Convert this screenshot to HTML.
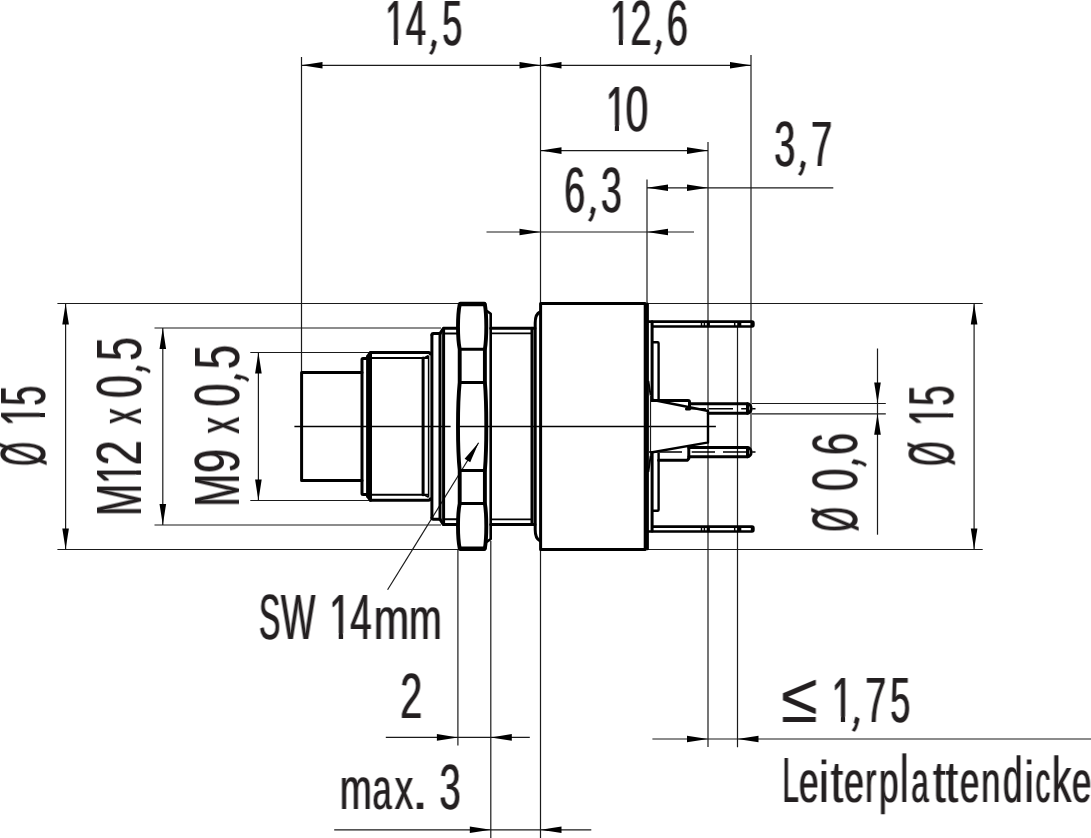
<!DOCTYPE html>
<html lang="de">
<head>
<meta charset="utf-8">
<title>Maßzeichnung</title>
<style>
html,body{margin:0;padding:0;background:#fff;}
body{width:1091px;height:838px;overflow:hidden;}
svg{display:block;}
text{font-family:"Liberation Sans",sans-serif;text-rendering:geometricPrecision;}
.t{fill:none;stroke:#1a1a1a;stroke-width:1.2;}
.k{fill:none;stroke:#000;stroke-width:3;stroke-linejoin:round;stroke-linecap:round;}
.m{fill:none;stroke:#000;stroke-width:1.9;stroke-linejoin:round;stroke-linecap:butt;}
.m2{fill:none;stroke:#000;stroke-width:2.4;stroke-linejoin:round;stroke-linecap:butt;}
.h2{fill:none;stroke:#000;stroke-width:4.4;stroke-linejoin:round;stroke-linecap:round;}
.p{fill:none;stroke:#000;stroke-width:2.6;stroke-linejoin:round;stroke-linecap:butt;}
.c{fill:none;stroke:#000;stroke-width:1.6;}
.n{fill:none;stroke:#000;stroke-width:1.5;stroke-linecap:butt;}
.h{fill:none;stroke:#000;stroke-width:3.9;stroke-linejoin:round;stroke-linecap:round;}
.a{fill:#000;stroke:none;}
</style>
</head>
<body>
<svg width="1091" height="838" viewBox="0 0 1091 838">
<rect width="1091" height="838" fill="#fff"/>
<defs>
<filter id="bh" x="-2%" y="-2%" width="104%" height="104%" color-interpolation-filters="sRGB"><feMorphology operator="dilate" radius="1 0" result="d"/><feComposite in="SourceGraphic" in2="d" operator="arithmetic" k1="0" k2="0.6" k3="0.4" k4="0"/></filter>
<filter id="bv" x="-2%" y="-2%" width="104%" height="104%" color-interpolation-filters="sRGB"><feMorphology operator="dilate" radius="0 1" result="d"/><feComposite in="SourceGraphic" in2="d" operator="arithmetic" k1="0" k2="0.6" k3="0.4" k4="0"/></filter>
</defs>
<g fill="#231f20" filter="url(#bh)">
<text transform="translate(0,45.00)" xml:space="preserve"><tspan x="384.95" y="0" font-size="63.95" textLength="20.54" lengthAdjust="spacingAndGlyphs">1</tspan><tspan x="405.76" y="0" font-size="63.95" textLength="20.42" lengthAdjust="spacingAndGlyphs">4</tspan><tspan x="427.99" y="-1.4" font-size="63.95" textLength="11.02" lengthAdjust="spacingAndGlyphs" rotate="22">,</tspan><tspan x="442.36" y="0" font-size="63.95" textLength="20.06" lengthAdjust="spacingAndGlyphs">5</tspan></text>
<text transform="translate(0,45.00)" xml:space="preserve"><tspan x="609.95" y="0" font-size="63.95" textLength="20.54" lengthAdjust="spacingAndGlyphs">1</tspan><tspan x="630.39" y="0" font-size="63.95" textLength="21.12" lengthAdjust="spacingAndGlyphs">2</tspan><tspan x="652.99" y="-1.4" font-size="63.95" textLength="11.02" lengthAdjust="spacingAndGlyphs" rotate="22">,</tspan><tspan x="666.66" y="0" font-size="63.95" textLength="21.21" lengthAdjust="spacingAndGlyphs">6</tspan></text>
<text transform="translate(0,130.80)" xml:space="preserve"><tspan x="605.63" y="0" font-size="63.95" textLength="21.23" lengthAdjust="spacingAndGlyphs">1</tspan><tspan x="625.60" y="0" font-size="63.95" textLength="22.80" lengthAdjust="spacingAndGlyphs">0</tspan></text>
<text transform="translate(0,211.90)" xml:space="preserve"><tspan x="564.29" y="0" font-size="63.95" textLength="20.97" lengthAdjust="spacingAndGlyphs">6</tspan><tspan x="586.89" y="-1.4" font-size="63.95" textLength="11.02" lengthAdjust="spacingAndGlyphs" rotate="22">,</tspan><tspan x="600.88" y="0" font-size="63.95" textLength="20.76" lengthAdjust="spacingAndGlyphs">3</tspan></text>
<text transform="translate(0,165.80)" xml:space="preserve"><tspan x="774.35" y="0" font-size="63.95" textLength="21.11" lengthAdjust="spacingAndGlyphs">3</tspan><tspan x="796.89" y="-1.4" font-size="63.95" textLength="11.02" lengthAdjust="spacingAndGlyphs" rotate="22">,</tspan><tspan x="811.04" y="0" font-size="63.95" textLength="21.29" lengthAdjust="spacingAndGlyphs">7</tspan></text>
<text transform="translate(0,638.80)" xml:space="preserve"><tspan x="259.05" y="0" font-size="63.95" textLength="21.32" lengthAdjust="spacingAndGlyphs">S</tspan><tspan x="281.04" y="0" font-size="63.95" textLength="34.28" lengthAdjust="spacingAndGlyphs">W</tspan> <tspan x="329.03" y="0" font-size="63.95" textLength="22.37" lengthAdjust="spacingAndGlyphs">1</tspan><tspan x="350.32" y="0" font-size="63.95" textLength="21.41" lengthAdjust="spacingAndGlyphs">4</tspan><tspan x="373.68" y="0" font-size="58.84" textLength="35.43" lengthAdjust="spacingAndGlyphs">m</tspan><tspan x="409.08" y="0" font-size="58.84" textLength="32.81" lengthAdjust="spacingAndGlyphs">m</tspan></text>
<text transform="translate(0,718.10)" xml:space="preserve"><tspan x="400.21" y="0" font-size="63.95" textLength="21.97" lengthAdjust="spacingAndGlyphs">2</tspan></text>
<text transform="translate(0,808.90)" xml:space="preserve"><tspan x="339.84" y="0" font-size="58.84" textLength="32.10" lengthAdjust="spacingAndGlyphs">m</tspan><tspan x="372.44" y="0" font-size="58.84" textLength="19.16" lengthAdjust="spacingAndGlyphs">a</tspan><tspan x="394.68" y="0" font-size="58.84" textLength="18.51" lengthAdjust="spacingAndGlyphs">x</tspan><tspan x="411.83" y="0" font-size="58.84" textLength="16.63" lengthAdjust="spacingAndGlyphs">.</tspan> <tspan x="439.55" y="0" font-size="63.95" textLength="21.23" lengthAdjust="spacingAndGlyphs">3</tspan></text>
<text transform="translate(0,722.00)" xml:space="preserve"><tspan x="781.37" y="0" font-size="70.51" textLength="36.30" lengthAdjust="spacingAndGlyphs">≤</tspan> <tspan x="831.45" y="0" font-size="63.95" textLength="21.68" lengthAdjust="spacingAndGlyphs">1</tspan><tspan x="850.79" y="-1.4" font-size="63.95" textLength="11.02" lengthAdjust="spacingAndGlyphs" rotate="22">,</tspan><tspan x="865.27" y="0" font-size="63.95" textLength="20.92" lengthAdjust="spacingAndGlyphs">7</tspan><tspan x="890.16" y="0" font-size="63.95" textLength="20.06" lengthAdjust="spacingAndGlyphs">5</tspan></text>
<text transform="translate(0,801.90)" xml:space="preserve"><tspan x="782.50" y="0" font-size="63.95" textLength="16.27" lengthAdjust="spacingAndGlyphs">L</tspan><tspan x="799.11" y="0" font-size="58.84" textLength="19.56" lengthAdjust="spacingAndGlyphs">e</tspan><tspan x="819.03" y="0" font-size="58.84" textLength="9.86" lengthAdjust="spacingAndGlyphs">i</tspan><tspan x="830.72" y="0" font-size="58.84" textLength="12.40" lengthAdjust="spacingAndGlyphs">t</tspan><tspan x="843.98" y="0" font-size="58.84" textLength="19.91" lengthAdjust="spacingAndGlyphs">e</tspan><tspan x="865.30" y="0" font-size="58.84" textLength="11.06" lengthAdjust="spacingAndGlyphs">r</tspan><tspan x="879.04" y="0" font-size="58.84" textLength="19.54" lengthAdjust="spacingAndGlyphs">p</tspan><tspan x="900.25" y="0" font-size="67.15" textLength="8.09" lengthAdjust="spacingAndGlyphs">l</tspan><tspan x="911.17" y="0" font-size="58.84" textLength="17.43" lengthAdjust="spacingAndGlyphs">a</tspan><tspan x="932.91" y="0" font-size="58.84" textLength="12.73" lengthAdjust="spacingAndGlyphs">t</tspan><tspan x="945.41" y="0" font-size="58.84" textLength="12.62" lengthAdjust="spacingAndGlyphs">t</tspan><tspan x="960.02" y="0" font-size="58.84" textLength="19.32" lengthAdjust="spacingAndGlyphs">e</tspan><tspan x="981.22" y="0" font-size="58.84" textLength="19.11" lengthAdjust="spacingAndGlyphs">n</tspan><tspan x="1002.93" y="0" font-size="64.59" textLength="19.42" lengthAdjust="spacingAndGlyphs">d</tspan><tspan x="1024.58" y="0" font-size="58.84" textLength="9.35" lengthAdjust="spacingAndGlyphs">i</tspan><tspan x="1035.45" y="0" font-size="58.84" textLength="14.73" lengthAdjust="spacingAndGlyphs">c</tspan><tspan x="1051.99" y="0" font-size="64.59" textLength="19.35" lengthAdjust="spacingAndGlyphs">k</tspan><tspan x="1071.92" y="0" font-size="58.84" textLength="19.32" lengthAdjust="spacingAndGlyphs">e</tspan></text>
</g>
<g fill="#231f20" filter="url(#bv)">
<text transform="translate(45.00,0) rotate(-90)" xml:space="preserve"><tspan x="-465.86" y="0" font-size="63.95" textLength="23.79" lengthAdjust="spacingAndGlyphs">Ø</tspan> <tspan x="-426.09" y="0" font-size="63.95" textLength="20.77" lengthAdjust="spacingAndGlyphs">1</tspan><tspan x="-405.74" y="0" font-size="63.95" textLength="20.06" lengthAdjust="spacingAndGlyphs">5</tspan></text>
<text transform="translate(141.00,0) rotate(-90)" xml:space="preserve"><tspan x="-515.88" y="0" font-size="63.95" textLength="32.25" lengthAdjust="spacingAndGlyphs">M</tspan><tspan x="-484.01" y="0" font-size="63.95" textLength="21.46" lengthAdjust="spacingAndGlyphs">1</tspan><tspan x="-465.59" y="0" font-size="63.95" textLength="25.27" lengthAdjust="spacingAndGlyphs">2</tspan> <tspan x="-424.05" y="0" font-size="58.84" textLength="15.79" lengthAdjust="spacingAndGlyphs">x</tspan> <tspan x="-398.10" y="0" font-size="63.95" textLength="22.80" lengthAdjust="spacingAndGlyphs">0</tspan><tspan x="-374.51" y="-1.4" font-size="63.95" textLength="11.02" lengthAdjust="spacingAndGlyphs" rotate="22">,</tspan><tspan x="-360.80" y="0" font-size="63.95" textLength="23.58" lengthAdjust="spacingAndGlyphs">5</tspan></text>
<text transform="translate(239.40,0) rotate(-90)" xml:space="preserve"><tspan x="-506.64" y="0" font-size="63.95" textLength="32.87" lengthAdjust="spacingAndGlyphs">M</tspan><tspan x="-473.03" y="0" font-size="63.95" textLength="24.08" lengthAdjust="spacingAndGlyphs">9</tspan> <tspan x="-433.57" y="0" font-size="58.84" textLength="16.53" lengthAdjust="spacingAndGlyphs">x</tspan> <tspan x="-406.50" y="0" font-size="63.95" textLength="22.80" lengthAdjust="spacingAndGlyphs">0</tspan><tspan x="-382.91" y="-1.4" font-size="63.95" textLength="11.02" lengthAdjust="spacingAndGlyphs" rotate="22">,</tspan><tspan x="-369.26" y="0" font-size="63.95" textLength="24.40" lengthAdjust="spacingAndGlyphs">5</tspan></text>
<text transform="translate(856.90,0) rotate(-90)" xml:space="preserve"><tspan x="-531.58" y="0" font-size="63.95" textLength="24.34" lengthAdjust="spacingAndGlyphs">Ø</tspan> <tspan x="-490.98" y="0" font-size="63.95" textLength="22.45" lengthAdjust="spacingAndGlyphs">0</tspan><tspan x="-467.91" y="-1.4" font-size="63.95" textLength="11.02" lengthAdjust="spacingAndGlyphs" rotate="22">,</tspan><tspan x="-455.11" y="0" font-size="63.95" textLength="22.06" lengthAdjust="spacingAndGlyphs">6</tspan></text>
<text transform="translate(953.30,0) rotate(-90)" xml:space="preserve"><tspan x="-465.68" y="0" font-size="63.95" textLength="24.23" lengthAdjust="spacingAndGlyphs">Ø</tspan> <tspan x="-426.07" y="0" font-size="63.95" textLength="20.09" lengthAdjust="spacingAndGlyphs">1</tspan><tspan x="-405.86" y="0" font-size="63.95" textLength="20.29" lengthAdjust="spacingAndGlyphs">5</tspan></text>
</g>
<g fill="#fff">
<rect x="385.76" y="39.62" width="8.05" height="6.18"/>
<rect x="397.92" y="39.62" width="7.77" height="6.18"/>
<rect x="610.76" y="39.62" width="8.05" height="6.18"/>
<rect x="622.92" y="39.62" width="7.77" height="6.18"/>
<rect x="606.54" y="125.42" width="8.27" height="6.18"/>
<rect x="619.02" y="125.42" width="7.97" height="6.18"/>
<rect x="330.09" y="633.42" width="8.63" height="6.18"/>
<rect x="343.12" y="633.42" width="8.32" height="6.18"/>
<rect x="832.42" y="716.62" width="8.41" height="6.18"/>
<rect x="845.12" y="716.62" width="7.48" height="6.18"/>
<rect x="39.62" y="417.12" width="6.18" height="8.13"/>
<rect x="39.62" y="405.14" width="6.18" height="7.84"/>
<rect x="135.62" y="474.73" width="6.18" height="8.34"/>
<rect x="135.62" y="463.80" width="6.18" height="6.68"/>
<rect x="947.92" y="417.41" width="6.18" height="7.91"/>
<rect x="947.92" y="405.75" width="6.18" height="7.63"/>
</g>
<path class="t" d="M301.5 57L301.5 372"/>
<path class="t" d="M540.5 57L540.5 303"/>
<path class="t" d="M540.5 549L540.5 838"/>
<path class="t" d="M751.0 55L751.0 449"/>
<path class="t" d="M301.5 65.3L751.0 65.3"/>
<polygon class="a" points="301.50,65.30 322.50,62.00 322.50,68.60"/>
<polygon class="a" points="540.50,65.30 519.50,62.00 519.50,68.60"/>
<polygon class="a" points="540.50,65.30 561.50,62.00 561.50,68.60"/>
<polygon class="a" points="751.00,65.30 730.00,62.00 730.00,68.60"/>
<path class="t" d="M708.0 142L708.0 747"/>
<path class="t" d="M540.5 150.6L708.0 150.6"/>
<polygon class="a" points="540.50,150.60 561.50,147.30 561.50,153.90"/>
<polygon class="a" points="708.00,150.60 687.00,147.30 687.00,153.90"/>
<path class="t" d="M647.0 179.5L647.0 303"/>
<path class="t" d="M647.0 187.8L833.3 187.8"/>
<polygon class="a" points="647.00,187.80 668.00,184.50 668.00,191.10"/>
<polygon class="a" points="708.00,187.80 687.00,184.50 687.00,191.10"/>
<path class="t" d="M486.5 232.0L694 232.0"/>
<polygon class="a" points="540.50,232.00 519.50,228.70 519.50,235.30"/>
<polygon class="a" points="647.00,232.00 668.00,228.70 668.00,235.30"/>
<path class="t" d="M57.4 303.5L458 303.5"/>
<path class="t" d="M57.4 549.5L458 549.5"/>
<path class="t" d="M65.6 303.5L65.6 549.5"/>
<polygon class="a" points="65.60,303.50 62.30,324.50 68.90,324.50"/>
<polygon class="a" points="65.60,549.50 62.30,528.50 68.90,528.50"/>
<path class="t" d="M154.5 328.0L441 328.0"/>
<path class="t" d="M154.5 525.0L441 525.0"/>
<path class="t" d="M162.8 328.0L162.8 525.0"/>
<polygon class="a" points="162.80,328.00 159.50,349.00 166.10,349.00"/>
<polygon class="a" points="162.80,525.00 159.50,504.00 166.10,504.00"/>
<path class="t" d="M250.3 352.5L370 352.5"/>
<path class="t" d="M250.3 500.5L370 500.5"/>
<path class="t" d="M258.4 352.5L258.4 500.5"/>
<polygon class="a" points="258.40,352.50 255.10,373.50 261.70,373.50"/>
<polygon class="a" points="258.40,500.50 255.10,479.50 261.70,479.50"/>
<path class="t" d="M647.0 303.5L982.7 303.5"/>
<path class="t" d="M647.0 549.5L982.7 549.5"/>
<path class="t" d="M974.1 303.5L974.1 549.5"/>
<polygon class="a" points="974.10,303.50 970.80,324.50 977.40,324.50"/>
<polygon class="a" points="974.10,549.50 970.80,528.50 977.40,528.50"/>
<path class="t" d="M752 403.5L885.8 403.5"/>
<path class="t" d="M752 413.8L885.8 413.8"/>
<path class="t" d="M877.5 348.5L877.5 534.7"/>
<polygon class="a" points="877.50,403.50 874.20,382.50 880.80,382.50"/>
<polygon class="a" points="877.50,413.80 874.20,434.80 880.80,434.80"/>
<path class="t" d="M457.9 549L457.9 745.5"/>
<path class="t" d="M490.8 541L490.8 838"/>
<path class="t" d="M385.8 737.4L529.8 737.4"/>
<polygon class="a" points="457.90,737.40 436.90,734.10 436.90,740.70"/>
<polygon class="a" points="490.80,737.40 511.80,734.10 511.80,740.70"/>
<path class="t" d="M334.2 829.8L591.3 829.8"/>
<polygon class="a" points="490.80,829.80 469.80,826.50 469.80,833.10"/>
<polygon class="a" points="540.50,829.80 561.50,826.50 561.50,833.10"/>
<path class="t" d="M737.5 327L737.5 747.3"/>
<path class="t" d="M652.4 739.0L1091 739.0"/>
<polygon class="a" points="708.00,739.00 687.00,735.70 687.00,742.30"/>
<polygon class="a" points="737.50,739.00 758.50,735.70 758.50,742.30"/>
<path class="c" d="M294.4 426.45L450.6 426.45"/>
<path class="c" d="M459 426.45L715.9 426.45"/>
<path class="t" d="M387.6 589.8L478.6 442.8"/>
<polygon class="a" points="478.6,442.8 470.2,462.3 464.6,458.8"/>
<path class="k" d="M362 372.4H301.6V480.4H362"/>
<path class="k" d="M368 358.4H363Q362 358.4 362 359.4V493.4Q362 494.4 363 494.4H368"/>
<path class="k" d="M367.6 356.5L370.5 352.5H428.5Q430.2 352.5 430.2 354M367.6 496.3L370.5 500.3H428.5Q430.2 500.3 430.2 498.8"/>
<path class="k" d="M367.6 356.5V496.3M370.5 352.5V500.3"/>
<path class="m" d="M371 358H428M371 494.8H428"/>
<path class="k" d="M423.1 358V494.8"/>
<path class="n" d="M428.6 356V496.8M424 358L428.6 355.5M424 494.8L428.6 497.3"/>
<path class="k" d="M431.9 335Q431.9 333.6 433.3 333.6H440M431.9 517.8Q431.9 519.2 433.3 519.2H440"/>
<path class="k" d="M431.9 335V517.8"/>
<path class="k" d="M440 333.6V519.2M443.6 329V523.8"/>
<path class="k" d="M440 333.6L443.4 328.2H458M440 519.2L443.4 524.6H458"/>
<path class="m" d="M444 333.5H458M444 519.3H458"/>
<path class="h" d="M459.7 304.5C458.34 311.20 458.0 317.91 458.0 326.85C458.0 335.79 458.34 342.50 459.7 349.20V382.4C458.34 395.60 458.0 408.80 458.0 426.40C458.0 444.00 458.34 457.20 459.7 470.40V503.6C458.34 510.31 458.0 517.01 458.0 525.95C458.0 534.89 458.34 541.59 459.7 548.30"/>
<path class="h" d="M484.9 304.5C486.02 311.20 486.3 317.91 486.3 326.85C486.3 335.79 486.02 342.50 484.9 349.20V382.4C486.02 395.60 486.3 408.80 486.3 426.40C486.3 444.00 486.02 457.20 484.9 470.40V503.6C486.02 510.31 486.3 517.01 486.3 525.95C486.3 534.89 486.02 541.59 484.9 548.30"/>
<path class="h2" d="M460.3 304H484.3M460.3 548.8H484.3"/>
<path class="k" d="M459.6 349.2H485M459.6 382.4H485M459.6 470.4H485M459.6 503.6H485"/>
<path class="p" d="M486.6 310.8L490.7 313.8V539.0L486.6 542.0"/>
<path class="k" d="M490.7 328.2H535M490.7 524.6H535"/>
<path class="m" d="M490.7 333.4H532M490.7 519.4H532"/>
<path class="k" d="M532.0 328.2V524.6"/>
<path class="k" d="M540 312Q535.2 314 535.2 323V529.8Q535.2 538.8 540 540.8"/>
<path class="k" d="M540.6 303.4H645.2V549.4H540.6Z"/>
<path class="k" d="M647.4 304V548.8"/>
<path class="k" d="M652.1 321.7V400.5M652.1 453V531.1"/>
<path class="m" d="M648.4 381L650.6 395.5M648.4 471.8L650.6 456"/>
<path class="t" d="M650.5 396L650.5 456"/>
<path class="p" d="M648 321.65000000000003H752Q753.4 321.65000000000003 753.4 323.05V325.05Q753.4 326.45 752 326.45H652"/>
<path class="p" d="M752.1 321.65000000000003V326.45"/>
<path class="n" d="M701.5 321.65000000000003V326.45M704.4 321.65000000000003V326.45M734.7 321.65000000000003V326.45"/>
<rect x="706.7" y="321.65000000000003" width="3.2" height="4.8"/>
<rect x="737.2" y="321.65000000000003" width="4.1" height="4.8"/>
<path class="p" d="M648 531.4499999999999H752Q753.4 531.4499999999999 753.4 530.05V528.05Q753.4 526.65 752 526.65H652"/>
<path class="p" d="M752.1 526.65V531.4499999999999"/>
<path class="n" d="M701.5 526.65V531.4499999999999M704.4 526.65V531.4499999999999M734.7 526.65V531.4499999999999"/>
<rect x="706.7" y="526.65" width="3.2" height="4.8"/>
<rect x="737.2" y="526.65" width="4.1" height="4.8"/>
<path class="m2" d="M652.1 342.2H657.6Q658.6 342.2 658.6 343.2V400.5M658.6 453V509.8Q658.6 510.8 657.6 510.8H652.1"/>
<path class="m2" d="M652.1 399.7L707.1 410.7H708V442.6H707.1L651 452.5"/>
<path class="k" d="M652.1 400.5H688Q689.5 400.5 689.5 402V409H686.5"/>
<path class="k" d="M689.5 403.7H747.5M708.2 413.3H747.5"/>
<path class="k" d="M747.5 403.7V413.3M747.5 403.7A3.6 4.8 0 0 1 747.5 413.3"/>
<path class="n" d="M685.6 408.7H706M708.7 408.7H733M741.2 408.7H747M752.2 408.7H755.5"/>
<path class="k" d="M658.6 460.2H687.5L688.8 458.5V447.5"/>
<path class="k" d="M688.8 447.5H747.5M688.8 456.8H747.5"/>
<path class="k" d="M747.5 447.5V456.8M747.5 447.5A3.6 4.65 0 0 1 747.5 456.8"/>
<path class="n" d="M649 451.9H682M691.7 451.9H715M723 451.9H746M752.2 451.9H755.5"/>
</svg>
</body>
</html>
